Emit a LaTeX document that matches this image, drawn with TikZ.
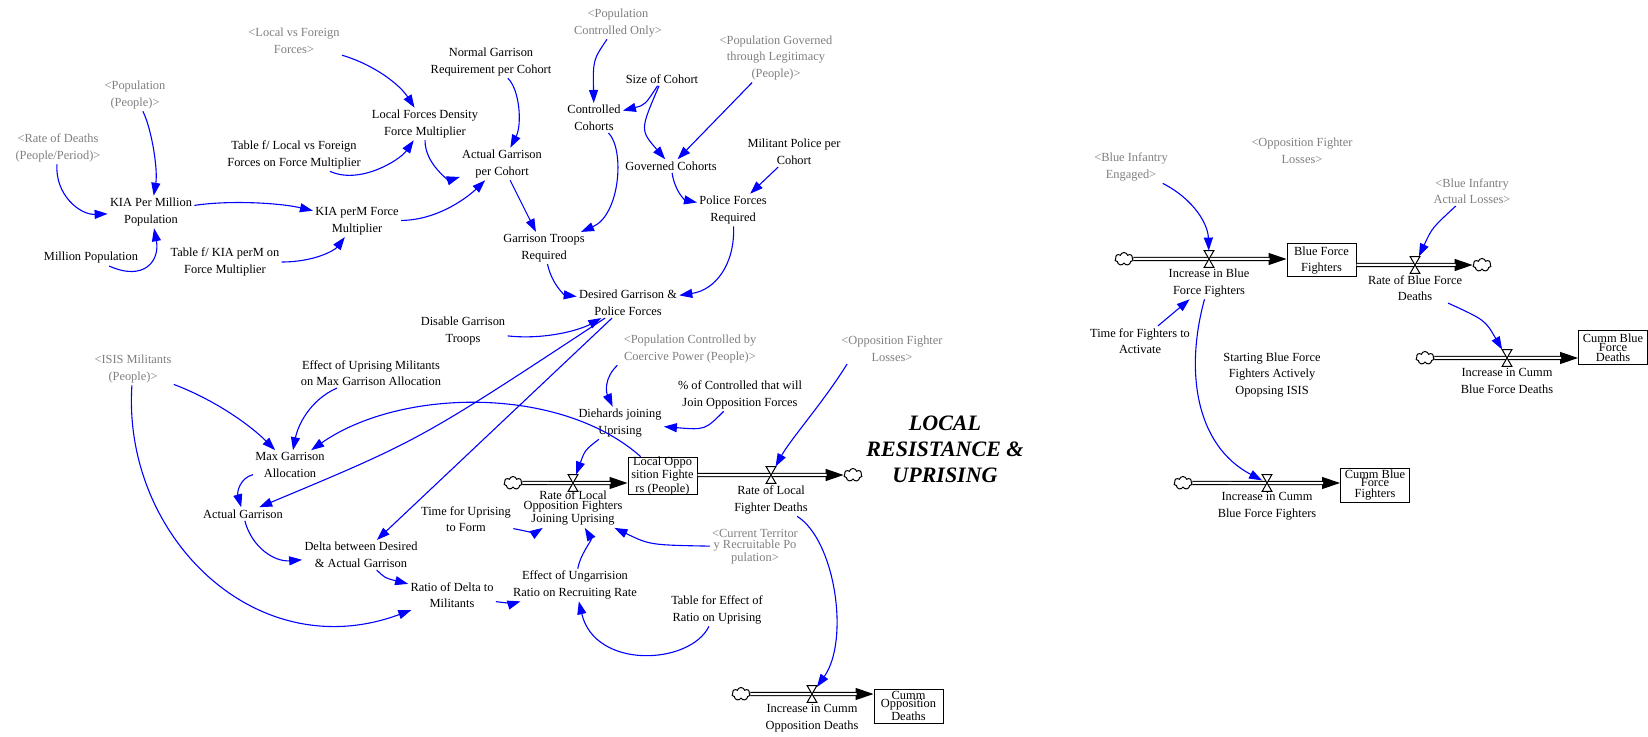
\documentclass[tikz,border=0pt]{standalone}
\usepackage{fontspec}
\setmainfont{Liberation Serif}
\usetikzlibrary{arrows.meta,shapes.symbols}
\definecolor{linkblue}{RGB}{0,0,255}
\definecolor{shadowgray}{RGB}{128,128,128}
\begin{document}
\begin{tikzpicture}[x=0.5pt,y=-0.5pt,
  var/.style={align=center,inner sep=1pt,font=\fontsize{6.2}{8.25}\selectfont},
  ghost/.style={var,text=shadowgray},
  tight/.style={font=\fontsize{6.2}{4.2}\selectfont},
  stockbox/.style={draw,line width=0.5pt,minimum width=34.5pt,minimum height=17pt,inner sep=0pt,align=center,fill=white,font=\fontsize{6.2}{8.25}\selectfont},
  valvebox/.style={minimum width=4.5pt,minimum height=8pt,inner sep=0pt},
  bowtie/.style={draw,fill=white,line width=0.5pt},
  cloudnode/.style={cloud,cloud puffs=7,aspect=1.4,draw,fill=white,line width=0.5pt,minimum width=9pt,minimum height=6.5pt,inner sep=0pt},
  link/.style={draw=linkblue,line width=0.55pt,-{Triangle[length=6.5pt,width=4.5pt]}},
  pipetip/.style={line width=0.6pt,-{Triangle[length=9pt,width=6pt]}},
  pipebody/.style={line width=0.6pt,double=white,double distance=1pt,shorten >=8.5pt},
  title/.style={align=center,font=\fontsize{11}{13}\selectfont\bfseries\itshape}
]
\useasboundingbox[fill=white] (0,0) rectangle (1648,737);

% ---------- garrison and force multiplier sector ----------
\node[ghost] (lvf) at (294,41) {<Local vs Foreign\\Forces>};
\node[ghost] (pop) at (135,95) {<Population\\(People)>};
\node[ghost] (rod) at (58,148) {<Rate of Deaths\\(People/Period)>};
\node[var] (kia) at (151,212) {KIA Per Million\\Population};
\node[var] (kiafm) at (357,221) {KIA perM Force\\Multiplier};
\node[var] (tlvf) at (294,155) {Table f/ Local vs Foreign\\Forces on Force Multiplier};
\node[var] (mpop) at (91,258) {Million Population};
\node[var] (tkia) at (225,262) {Table f/ KIA perM on\\Force Multiplier};
\node[var] (lfd) at (425,124) {Local Forces Density\\Force Multiplier};
\node[var] (ngr) at (491,62) {Normal Garrison\\Requirement per Cohort};
\node[var] (agpc) at (502,164) {Actual Garrison\\per Cohort};
\node[ghost] (pco) at (618,23) {<Population\\Controlled Only>};
\node[var] (soc) at (662,79) {Size of Cohort};
\node[var] (cc) at (594,118) {Controlled\\Cohorts};
\node[ghost] (pgl) at (776,58) {<Population Governed\\through Legitimacy\\(People)>};
\node[var] (gc) at (671,166) {Governed Cohorts};
\node[var] (mpp) at (794,152) {Militant Police per\\Cohort};
\node[var] (pfr) at (733,210) {Police Forces\\Required};
\node[var] (gtr) at (544,248) {Garrison Troops\\Required};
\node[var] (dg) at (628,303) {Desired Garrison \&\\Police Forces};
\node[var] (dgt) at (463,331) {Disable Garrison\\Troops};
\node[ghost] (isis) at (133,369) {<ISIS Militants\\(People)>};
\node[var] (eum) at (371,373) {Effect of Uprising Militants\\on Max Garrison Allocation};
\node[var] (mga) at (290,465) {Max Garrison\\Allocation};
\node[var] (ag) at (243,514) {Actual Garrison};
\node[var] (delta) at (361,555) {Delta between Desired\\\& Actual Garrison};
\node[ghost] (pcc) at (690,349) {<Population Controlled by\\Coercive Power (People)>};
\node[var] (pct) at (740,395) {\% of Controlled that will\\Join Opposition Forces};
\node[var] (die) at (620,423) {Diehards joining\\Uprising};
\node[ghost] (ofl) at (892,349) {<Opposition Fighter\\Losses>};
\node[var] (tuf) at (466,519) {Time for Uprising\\to Form};
\node[ghost,tight] (ctr) at (755,547) {<Current Territor\\y Recruitable Po\\pulation>};
\node[var] (eur) at (575,585) {Effect of Ungarrision\\Ratio on Recruiting Rate};
\node[var] (rdm) at (452,595) {Ratio of Delta to\\Militants};
\node[var] (tfe) at (717,610) {Table for Effect of\\Ratio on Uprising};
\node[title] (ttl) at (945,449) {LOCAL\\RESISTANCE \&\\UPRISING};

% ---------- blue force sector ----------
\node[ghost] (bie) at (1131,167) {<Blue Infantry\\Engaged>};
\node[ghost] (ofl2) at (1302,151) {<Opposition Fighter\\Losses>};
\node[ghost] (bial) at (1472,191) {<Blue Infantry\\Actual Losses>};
\node[var] (tfa) at (1140,341) {Time for Fighters to\\Activate};
\node[var] (sbf) at (1272,375) {Starting Blue Force\\Fighters Actively\\Opopsing ISIS};

% ---------- stocks ----------
\node[stockbox,tight] (lof) at (662.5,476) {Local Oppo\\sition Fighte\\rs (People)};
\node[stockbox,tight] (cod) at (908.5,706) {Cumm\\Opposition\\Deaths};
\node[stockbox,minimum height=16.5pt] (bff) at (1321.5,260.5) {Blue Force\\Fighters};
\node[stockbox,tight] (cbd) at (1613,348) {Cumm Blue\\Force\\Deaths};
\node[stockbox,tight] (cbf) at (1375,485) {Cumm Blue\\Force\\Fighters};

% ---------- sources and sinks ----------
\node[cloudnode] (c1) at (513,483) {};
\node[cloudnode] (c2) at (853,475) {};
\node[cloudnode] (c3) at (741,694) {};
\node[cloudnode] (c4) at (1124,259) {};
\node[cloudnode] (c5) at (1482,265) {};
\node[cloudnode] (c6) at (1425,358) {};
\node[cloudnode] (c7) at (1183,483) {};

% ---------- valves ----------
\node[valvebox] (v1) at (573,483) {};
\node[valvebox] (v2) at (771,475) {};
\node[valvebox] (v3) at (812,694) {};
\node[valvebox] (v4) at (1209,259) {};
\node[valvebox] (v5) at (1415,265) {};
\node[valvebox] (v6) at (1507,358) {};
\node[valvebox] (v7) at (1267,483) {};

% ---------- flow names ----------
\node[var,tight] (rlo) at (573,508) {Rate of Local\\Opposition Fighters\\Joining Uprising};
\node[var] (rlfd) at (771,500) {Rate of Local\\Fighter Deaths};
\node[var] (icod) at (812,718) {Increase in Cumm\\Opposition Deaths};
\node[var] (ibff) at (1209,283) {Increase in Blue\\Force Fighters};
\node[var] (rbfd) at (1415,288) {Rate of Blue Force\\Deaths};
\node[var] (icbd) at (1507,381) {Increase in Cumm\\Blue Force Deaths};
\node[var] (icbf) at (1267,506) {Increase in Cumm\\Blue Force Fighters};

% ---------- pipes ----------
\foreach \src/\dst in {c1/lof,c3/cod,c4/bff,c6/cbd,c7/cbf}{
  \draw[pipetip] (\src) -- (\src -| \dst.west);
  \draw[pipebody] (\src) -- (\src -| \dst.west);
}
\foreach \src/\dst in {lof/c2,bff/c5}{
  \draw[pipetip] (\src.east |- \dst) -- (\dst);
  \draw[pipebody] (\src.east |- \dst) -- (\dst);
}
\foreach \v in {v1,v2,v3,v4,v5,v6,v7}{
  \draw[bowtie] (\v.north west) -- (\v.north east) -- (\v.south west) -- (\v.south east) -- cycle;
}

% ---------- causal links ----------
\draw[link] (lvf) .. controls (375,65) and (400,85) .. (lfd);
\draw[link] (pop) .. controls (152,130) and (158,170) .. (kia);
\draw[link] (rod) .. controls (55,195) and (80,215) .. (kia);
\draw[link] (kia) .. controls (230,200) and (280,203) .. (kiafm);
\draw[link] (mpop) .. controls (145,282) and (160,260) .. (kia);
\draw[link] (tkia) .. controls (315,262) and (335,250) .. (kiafm);
\draw[link] (tlvf) .. controls (360,185) and (400,160) .. (lfd);
\draw[link] (kiafm) .. controls (440,220) and (470,195) .. (agpc);
\draw[link] (ngr) .. controls (520,90) and (522,125) .. (agpc);
\draw[link] (lfd) .. controls (425,165) and (450,180) .. (agpc);
\draw[link] (agpc) -- (gtr);
\draw[link] (pco) .. controls (593,60) .. (cc);
\draw[link] (soc) .. controls (645,105) .. (cc);
\draw[link] (soc) .. controls (640,130) .. (gc);
\draw[link] (pgl) -- (gc);
\draw[link] (cc) .. controls (625,150) and (620,215) .. (gtr);
\draw[link] (gc) .. controls (675,192) and (685,200) .. (pfr);
\draw[link] (mpp) -- (pfr);
\draw[link] (gtr) .. controls (552,285) and (565,295) .. (dg);
\draw[link] (pfr) .. controls (735,265) and (715,290) .. (dg);
\draw[link] (dgt) .. controls (545,340) and (580,330) .. (dg);
\draw[link] (dg) .. controls (420,440) .. (ag);
\draw[link] (dg) -- (delta);
\draw[link] (lof) .. controls (560,385) and (400,388) .. (mga);
\draw[link] (isis) .. controls (215,400) and (250,425) .. (mga);
\draw[link] (eum) .. controls (310,400) and (298,425) .. (mga);
\draw[link] (mga) .. controls (240,478) and (237,492) .. (ag);
\draw[link] (ag) .. controls (252,548) and (275,562) .. (delta);
\draw[link] (delta) .. controls (385,578) .. (rdm);
\draw[link] (isis) .. controls (122,535) and (255,668) .. (rdm);
\draw[link] (rdm) .. controls (505,603) and (515,603) .. (eur);
\draw[link] (tuf) .. controls (535,533) .. (rlo);
\draw[link] (eur) .. controls (580,555) and (592,540) .. (rlo);
\draw[link] (ctr) .. controls (650,545) .. (rlo);
\draw[link] (tfe) .. controls (690,665) and (595,670) .. (eur);
\draw[link] ([xshift=-2pt]pcc.south west) .. controls (604,378) and (606,392) .. (die);
\draw[link] (pct) .. controls (705,430) .. (die);
\draw[link] (die) .. controls (585,450) .. (v1);
\draw[link] ([xshift=4pt]ofl.south west) .. controls (825,400) and (790,440) .. (v2);
\draw[link] (rlfd) .. controls (835,540) and (850,640) .. (v3);
\draw[link] (bie) .. controls (1195,200) and (1208,225) .. (v4);
\draw[link] (tfa) -- (ibff);
\draw[link] (bial) .. controls (1432,228) .. (v5);
\draw[link] (rbfd) .. controls (1485,320) .. (v6);
\draw[link] (ibff) .. controls (1185,370) and (1195,445) .. (v7);
\end{tikzpicture}
\end{document}
